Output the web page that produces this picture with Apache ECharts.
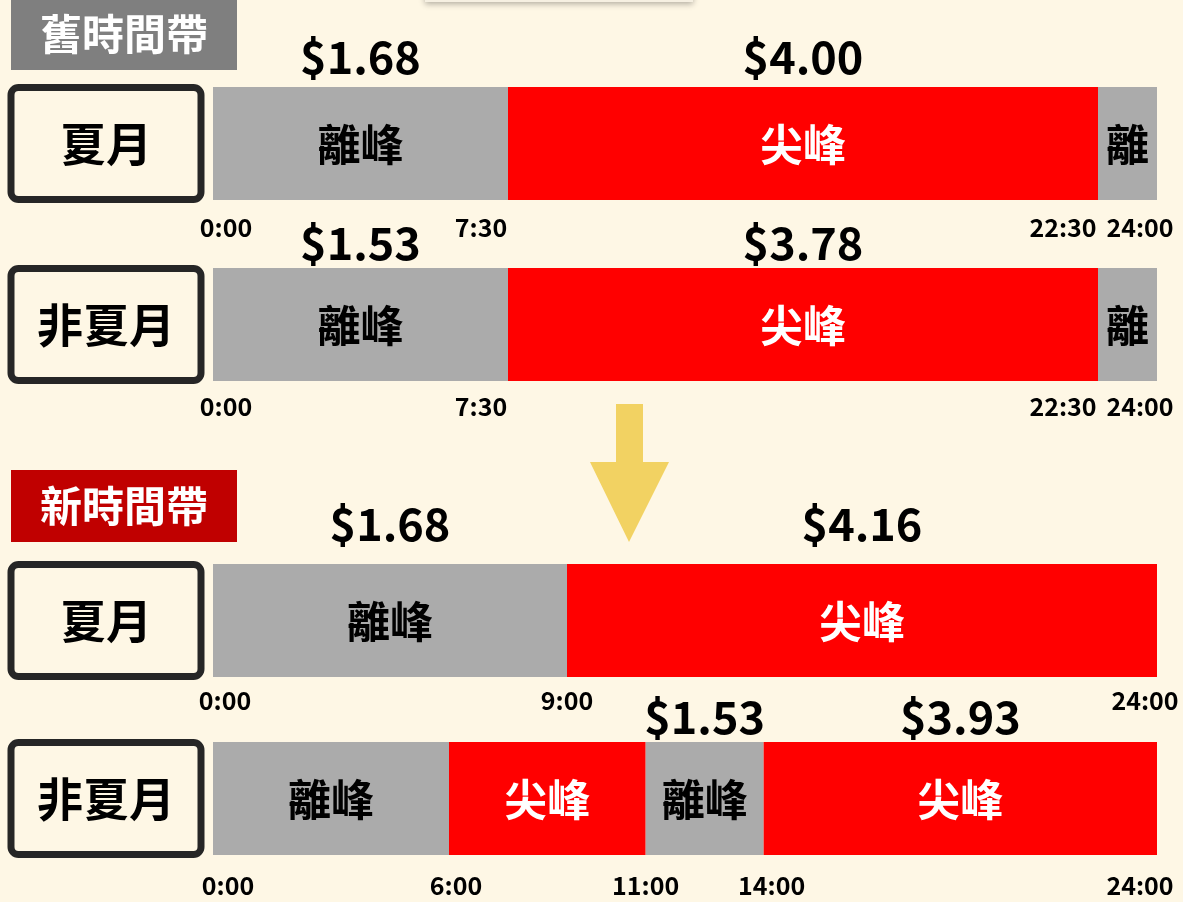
<!DOCTYPE html>
<html>
<head>
<meta charset="utf-8">
<script src="https://cdn.jsdelivr.net/npm/echarts@6/dist/echarts.min.js"></script>
<style>
html, body { margin: 0; padding: 0; background: #FEF7E5; }
#chart { width: 1183px; height: 902px; }
</style>
</head>
<body>
<div id="chart"></div>
<script>
const FONT = "'Noto Sans CJK TC', 'Noto Sans CJK SC', sans-serif";

// 舊時間帶 - 夏月
const oldSummerHours = [0, 7.5, 22.5, 24];
const oldSummerNames = ['離峰', '尖峰', '離'];
const oldSummerPrices = ['$1.68', '$4.00', ''];
// 舊時間帶 - 非夏月
const oldWinterHours = [0, 7.5, 22.5, 24];
const oldWinterNames = ['離峰', '尖峰', '離'];
const oldWinterPrices = ['$1.53', '$3.78', ''];
// 新時間帶 - 夏月
const newSummerHours = [0, 9, 24];
const newSummerNames = ['離峰', '尖峰'];
const newSummerPrices = ['$1.68', '$4.16'];
// 新時間帶 - 非夏月
const newWinterHours = [0, 6, 11, 14, 24];
const newWinterNames = ['離峰', '尖峰', '離峰', '尖峰'];
const newWinterPrices = ['', '', '$1.53', '$3.93'];

const rowLabels = ['夏月', '非夏月', '夏月', '非夏月'];

// 版面 (样式)
const gridTops = [87, 268, 564, 742];
const priceGaps = [30, 25, 40, 25];
const tickMargins = [15, 13, 11, 18];
const labelShifts = [
  { 0: 13, 7.5: -27, 22.5: -35, 24: -17 },
  { 0: 13, 7.5: -27, 22.5: -35, 24: -17 },
  { 0: 12, 24: -12 },
  { 0: 15, 6: 7, 14: 8, 24: -17 }
];

const rows = [
  { hours: oldSummerHours, names: oldSummerNames, prices: oldSummerPrices },
  { hours: oldWinterHours, names: oldWinterNames, prices: oldWinterPrices },
  { hours: newSummerHours, names: newSummerNames, prices: newSummerPrices },
  { hours: newWinterHours, names: newWinterNames, prices: newWinterPrices }
];

function fmtHour(h) {
  const hh = Math.floor(h);
  const mm = Math.round((h - hh) * 60);
  return hh + ':' + (mm < 10 ? '0' + mm : mm);
}

const grids = [], xAxes = [], yAxes = [], series = [];

rows.forEach((row, r) => {
  grids.push({ left: 213, width: 944, top: gridTops[r], height: 113, outerBoundsMode: 'none' });

  // 时间刻度标签
  const rich = {};
  Object.keys(labelShifts[r]).forEach((k, i) => {
    const d = labelShifts[r][k];
    rich['s' + i] = {
      fontSize: 25, fontWeight: 'bold', fontFamily: FONT, color: '#000',
      padding: d > 0 ? [0, 0, 0, 2 * d] : [0, -2 * d, 0, 0]
    };
  });
  xAxes.push({
    type: 'value', gridIndex: r, min: 0, max: 24,
    axisLine: { show: false }, axisTick: { show: false }, splitLine: { show: false },
    axisLabel: {
      customValues: row.hours,
      margin: tickMargins[r],
      fontSize: 25, fontWeight: 'bold', fontFamily: FONT, color: '#000',
      alignMinLabel: 'center', alignMaxLabel: 'center',
      rich: rich,
      formatter: (v) => {
        const keys = Object.keys(labelShifts[r]);
        const idx = keys.findIndex((k) => Math.abs(Number(k) - v) < 1e-6);
        return idx >= 0 ? '{s' + idx + '|' + fmtHour(v) + '}' : fmtHour(v);
      }
    }
  });

  // 左侧月份框
  yAxes.push({
    type: 'category', gridIndex: r, data: [rowLabels[r]],
    axisLine: { show: false }, axisTick: { show: false },
    axisLabel: {
      margin: 15.5,
      backgroundColor: '#FEF7E5',
      borderColor: '#262626',
      borderWidth: 7,
      borderRadius: 4,
      formatter: (v) => '{b|' + v + '}',
      rich: {
        b: {
          width: 183, lineHeight: 105, align: 'center',
          fontSize: 46, fontWeight: 'bold', fontFamily: FONT, color: '#000'
        }
      }
    }
  });

  const segData = row.names.map((n, i) => [0, row.hours[i], row.hours[i + 1]]);
  series.push({
    type: 'custom',
    xAxisIndex: r, yAxisIndex: r,
    encode: { x: [1, 2], y: 0 },
    data: segData,
    renderItem: (params, api) => {
      const i = params.dataIndex;
      const name = row.names[i];
      const price = row.prices[i];
      const peak = name.charAt(0) === '尖';
      const start = api.coord([api.value(1), api.value(0)]);
      const end = api.coord([api.value(2), api.value(0)]);
      const h = api.size([0, 1])[1];
      const top = start[1] - h / 2;
      const cx = (start[0] + end[0]) / 2;
      const children = [
        {
          type: 'rect',
          shape: { x: start[0], y: top, width: end[0] - start[0], height: h },
          style: { fill: peak ? '#FF0000' : '#ABABAB' }
        },
        {
          type: 'text',
          style: {
            text: name, x: cx, y: start[1] + 1, align: 'center', verticalAlign: 'middle',
            fill: peak ? '#FFFFFF' : '#000000',
            fontSize: 43, fontWeight: 'bold', fontFamily: FONT
          }
        }
      ];
      if (price) {
        children.push({
          type: 'text',
          style: {
            text: price, x: cx, y: top - priceGaps[r], align: 'center', verticalAlign: 'middle',
            fill: '#000000', fontSize: 45, fontWeight: 'bold', fontFamily: FONT
          }
        });
      }
      return { type: 'group', children: children };
    }
  });
});

const chart = echarts.init(document.getElementById('chart'));
chart.setOption({
  backgroundColor: '#FEF7E5',
  animation: false,
  title: [
    {
      text: '舊時間帶', left: 11, top: -2,
      backgroundColor: '#7F7F7F', padding: [11, 29, 11, 29],
      textStyle: { color: '#FFFFFF', fontSize: 42, fontWeight: 'bold', lineHeight: 50, fontFamily: FONT }
    },
    {
      text: '新時間帶', left: 11, top: 470,
      backgroundColor: '#C00000', padding: [11, 29, 11, 29],
      textStyle: { color: '#FFFFFF', fontSize: 42, fontWeight: 'bold', lineHeight: 50, fontFamily: FONT }
    }
  ],
  grid: grids,
  xAxis: xAxes,
  yAxis: yAxes,
  series: series,
  graphic: [
    {
      // 顶部被裁掉的方框
      type: 'rect', left: 425, top: -40,
      shape: { width: 268, height: 42 },
      style: { fill: '#F6F0E2', shadowBlur: 6, shadowOffsetY: 2, shadowColor: 'rgba(0,0,0,0.3)' }
    },
    {
      // 向下箭头
      type: 'polygon',
      shape: {
        points: [[616, 404], [643, 404], [643, 462], [669, 462], [629, 542], [590, 462], [616, 462]]
      },
      style: { fill: '#F2D262' }
    }
  ]
});
</script>
</body>
</html>
